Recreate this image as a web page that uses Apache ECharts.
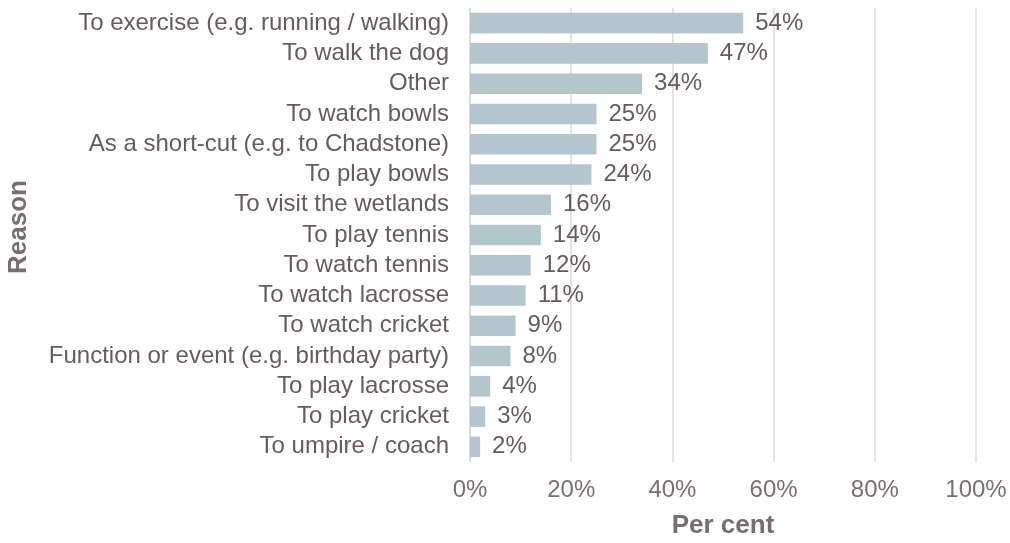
<!DOCTYPE html>
<html>
<head>
<meta charset="utf-8">
<script src="https://cdn.jsdelivr.net/npm/echarts@6/dist/echarts.min.js"></script>
<style>
  html, body { margin: 0; padding: 0; background: #ffffff; }
  #chart { width: 1010px; height: 543px; }
</style>
</head>
<body>
<div id="chart"></div>
<script>
// Reasons for visiting, listed top to bottom
const reasons = [
  'To exercise (e.g. running / walking)',
  'To walk the dog',
  'Other',
  'To watch bowls',
  'As a short-cut (e.g. to Chadstone)',
  'To play bowls',
  'To visit the wetlands',
  'To play tennis',
  'To watch tennis',
  'To watch lacrosse',
  'To watch cricket',
  'Function or event (e.g. birthday party)',
  'To play lacrosse',
  'To play cricket',
  'To umpire / coach'
];

// Share of respondents (per cent)
const percents = [54, 47, 34, 25, 25, 24, 16, 14, 12, 11, 9, 8, 4, 3, 2];

// X axis tick values (per cent)
const xTicks = [0, 20, 40, 60, 80, 100];

const FONT = '"Liberation Sans", Arial, sans-serif';
const TEXT = '#665b5e';
const TICK = '#7a6f72';
const TITLE = '#786d70';
const GRID = '#d9d9d9';

const chart = echarts.init(document.getElementById('chart'), null, { renderer: 'canvas' });

chart.setOption({
  animation: false,
  grid: { left: 470, right: 34, top: 8, bottom: 81, containLabel: false, outerBoundsMode: 'none' },
  xAxis: {
    type: 'value',
    min: xTicks[0],
    max: xTicks[xTicks.length - 1],
    interval: xTicks[1] - xTicks[0],
    name: 'Per cent',
    nameLocation: 'middle',
    nameGap: 51,
    nameTextStyle: { fontFamily: FONT, fontSize: 26, fontWeight: 'bold', color: TITLE },
    axisLine: { show: false },
    axisTick: { show: false },
    axisLabel: { fontFamily: FONT, fontSize: 24, color: TICK, margin: 16, formatter: v => v + '%' },
    splitLine: { show: true, lineStyle: { color: GRID, width: 1.5 } }
  },
  yAxis: {
    type: 'category',
    data: reasons,
    inverse: true,
    name: 'Reason',
    nameLocation: 'middle',
    nameGap: 438,
    nameRotate: 90,
    nameTextStyle: { fontFamily: FONT, fontSize: 26, fontWeight: 'bold', color: TITLE, padding: [0, 0, 0, 16] },
    axisLine: { show: true, lineStyle: { color: GRID, width: 1.5 } },
    axisTick: { show: false },
    axisLabel: { interval: 0, fontFamily: FONT, fontSize: 24, color: TEXT, margin: 21 }
  },
  series: [{
    type: 'bar',
    data: percents,
    barCategoryGap: '32%',
    itemStyle: { color: '#b3c6cd' },
    label: {
      show: true,
      position: 'right',
      distance: 12,
      fontFamily: FONT,
      fontSize: 24,
      color: TEXT,
      formatter: p => p.value + '%'
    }
  }]
});
</script>
</body>
</html>
